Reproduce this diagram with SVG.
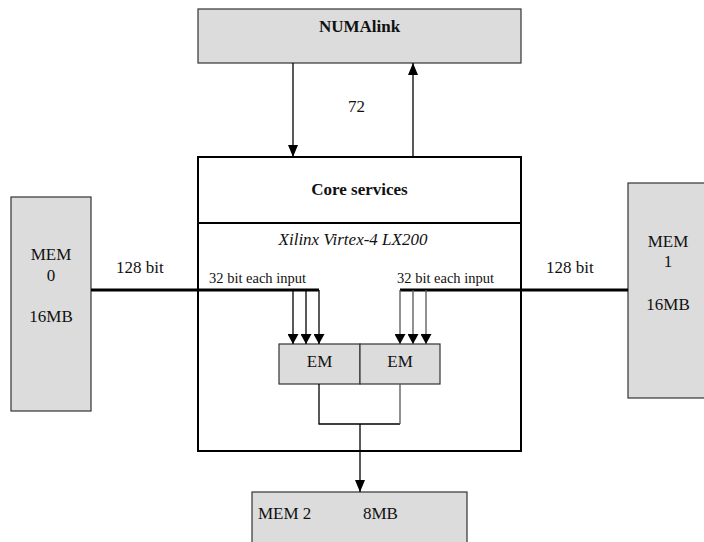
<svg xmlns="http://www.w3.org/2000/svg" width="704" height="542" viewBox="0 0 704 542">
<defs>
<style>
.box{fill:#dcdcdc;stroke:#333;stroke-width:1.2}
.core{fill:#fff;stroke:#000;stroke-width:2}
.ln{stroke:#000;stroke-width:1.3;fill:none}
.lg{stroke:#555;stroke-width:1.3;fill:none}
.bus{stroke:#000;stroke-width:3;fill:none}
</style>
<marker id="ah" viewBox="0 0 12 10" refX="12" refY="5" markerWidth="12" markerHeight="10" markerUnits="userSpaceOnUse" orient="auto">
<path d="M0,0 L12,5 L0,10 Z" fill="#000"/>
</marker>
<marker id="sa" viewBox="0 0 10 11" refX="10" refY="5.5" markerWidth="10" markerHeight="11" markerUnits="userSpaceOnUse" orient="auto">
<path d="M0,0 L10,5.5 L0,11 Z" fill="#000"/>
</marker>
</defs>
<rect width="704" height="542" fill="#fff"/>
<g font-family="Liberation Serif, Times New Roman, serif" font-size="17" fill="#111">

<g id="numalink">
<rect class="box" x="198" y="9" width="323" height="54"/>
<text x="359.5" y="32" text-anchor="middle" font-weight="bold">NUMAlink</text>
</g>

<g id="core">
<rect class="core" x="198" y="157" width="323" height="294"/>
<line x1="198" y1="223" x2="521" y2="223" stroke="#000" stroke-width="2"/>
<text x="359.5" y="195" text-anchor="middle" font-weight="bold">Core services</text>
<text x="353" y="245" text-anchor="middle" font-style="italic">Xilinx Virtex-4 LX200</text>
</g>

<g id="mem0">
<rect class="box" x="11" y="197" width="80" height="214"/>
<text x="51" y="260" text-anchor="middle">MEM</text>
<text x="51" y="281" text-anchor="middle">0</text>
<text x="51" y="322" text-anchor="middle">16MB</text>
</g>

<g id="mem1">
<rect class="box" x="628" y="183" width="90" height="215"/>
<text x="668" y="247" text-anchor="middle">MEM</text>
<text x="668" y="267" text-anchor="middle">1</text>
<text x="668" y="310" text-anchor="middle">16MB</text>
</g>

<g id="em-left">
<rect class="box" x="279" y="344" width="81" height="40"/>
<text x="319.5" y="367" text-anchor="middle">EM</text>
</g>

<g id="em-right">
<rect class="box" x="360" y="344" width="80" height="40"/>
<text x="400" y="367" text-anchor="middle">EM</text>
</g>

<g id="mem2">
<rect class="box" x="252" y="492" width="215" height="60"/>
<text x="258" y="519">MEM 2</text>
<text x="363" y="519">8MB</text>
</g>

<g id="connectors">
<line class="ln" x1="293" y1="63" x2="293" y2="157" marker-end="url(#ah)"/>
<line class="ln" x1="413" y1="157" x2="413" y2="63" marker-end="url(#ah)"/>
<text x="348" y="112">72</text>

<polyline class="bus" points="91,290 319,290"/>
<line class="ln" x1="319" y1="290" x2="319" y2="344" marker-end="url(#sa)"/>
<line class="ln" x1="306" y1="290" x2="306" y2="344" marker-end="url(#sa)"/>
<line class="ln" x1="293" y1="290" x2="293" y2="344" marker-end="url(#sa)"/>
<text x="116" y="273">128 bit</text>
<text x="209" y="283" font-size="14.5">32 bit each input</text>

<polyline class="bus" points="400,290 628,290"/>
<line class="lg" x1="400" y1="290" x2="400" y2="344" marker-end="url(#sa)"/>
<line class="lg" x1="413" y1="290" x2="413" y2="344" marker-end="url(#sa)"/>
<line class="lg" x1="426" y1="290" x2="426" y2="344" marker-end="url(#sa)"/>
<text x="546" y="273">128 bit</text>
<text x="397" y="283" font-size="14.5">32 bit each input</text>

<polyline class="ln" points="319,384 319,424 400,424"/>
<line class="lg" x1="400" y1="384" x2="400" y2="424"/>
<line class="ln" x1="360" y1="424" x2="360" y2="492" marker-end="url(#ah)"/>
</g>
</g>
</svg>
